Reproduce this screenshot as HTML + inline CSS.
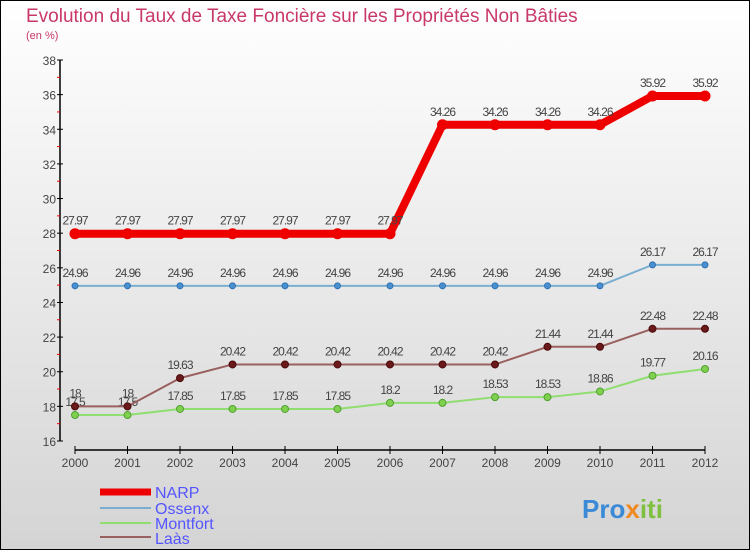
<!DOCTYPE html>
<html><head><meta charset="utf-8"><style>
body{margin:0}
#c{width:750px;height:550px;position:relative;overflow:hidden}
text{font-family:"Liberation Sans",sans-serif}
</style></head><body>
<div id="c">
<svg id="s" width="750" height="550" xmlns="http://www.w3.org/2000/svg">
<defs><linearGradient id="bg" x1="0" y1="0" x2="0" y2="1"><stop offset="0" stop-color="#ffffff"/><stop offset="1" stop-color="#d4d4d4"/></linearGradient></defs>
<rect x="0.5" y="0.5" width="749" height="549" fill="url(#bg)" stroke="#000"/>
<text x="26" y="22" font-size="19" fill="#c8386a">Evolution du Taux de Taxe Foncière sur les Propriétés Non Bâties</text>
<text x="26" y="39" font-size="11" fill="#c8386a">(en %)</text>
<g id="axes"></g><g id="series"></g>
<g>
<line x1="100" y1="492" x2="151" y2="492" stroke="#ee0000" stroke-width="7"/>
<text x="155" y="498" font-size="16" fill="#5555ff">NARP</text>
<line x1="100" y1="508" x2="151" y2="508" stroke="#7aaed0" stroke-width="2"/>
<text x="155" y="514" font-size="16" fill="#5555ff">Ossenx</text>
<line x1="100" y1="523" x2="151" y2="523" stroke="#90dd70" stroke-width="2"/>
<text x="155" y="529" font-size="16" fill="#5555ff">Montfort</text>
<line x1="100" y1="537" x2="151" y2="537" stroke="#9a6060" stroke-width="2"/>
<text x="155" y="544" font-size="16" fill="#5555ff">Laàs</text>
</g>
<text x="582" y="518" font-size="26" font-weight="bold" fill="#3a8ad8">Pro<tspan fill="#f08a20">x</tspan><tspan fill="#80c040">iti</tspan></text>
</svg></div>
<script>
const years=[2000,2001,2002,2003,2004,2005,2006,2007,2008,2009,2010,2011,2012];
const narp=[27.97,27.97,27.97,27.97,27.97,27.97,27.97,34.26,34.26,34.26,34.26,35.92,35.92];
const ossenx=[24.96,24.96,24.96,24.96,24.96,24.96,24.96,24.96,24.96,24.96,24.96,26.17,26.17];
const montfort=[17.5,17.5,17.85,17.85,17.85,17.85,18.2,18.2,18.53,18.53,18.86,19.77,20.16];
const laas=[18,18,19.63,20.42,20.42,20.42,20.42,20.42,20.42,21.44,21.44,22.48,22.48];
const yTicks=[16,18,20,22,24,26,28,30,32,34,36,38];
const NS="http://www.w3.org/2000/svg";
const xs=i=>75+i*52.5, ys=v=>441-(v-16)*(381/22);
function mk(t,a,p){const e=document.createElementNS(NS,t);for(const k in a)e.setAttribute(k,a[k]);p.appendChild(e);return e;}
const ax=document.getElementById('axes'), sg=document.getElementById('series');
let yl=mk('line',{x1:60,y1:60,x2:60,y2:441,stroke:'#000','stroke-width':1.5},ax);


let xl=mk('line',{x1:75,y1:450,x2:705,y2:450,stroke:'#000','stroke-width':1.5},ax);


yTicks.forEach(v=>{const y=ys(v);
 mk('line',{x1:57,y1:y,x2:63,y2:y,stroke:'#000'},ax);
 mk('line',{x1:57,y1:ys(v+1),x2:60,y2:ys(v+1),stroke:'#f00'},ax).style.display=v<38?'':'none';
 const t=mk('text',{x:56,y:y+5,'font-size':12,fill:'#444','text-anchor':'end'},ax);t.textContent=v;
 
 });
years.forEach((yr,i)=>{const x=xs(i);
 mk('line',{x1:x,y1:446,x2:x,y2:454,stroke:'#000'},ax);
 const t=mk('text',{x:x,y:467,'font-size':12,fill:'#444','text-anchor':'middle'},ax);t.textContent=yr;
 
 });
function series(d,name,col,w,dot,dotStroke,r){
 const g=mk('g',{},sg);
 
 
 mk('polyline',{points:d.map((v,i)=>xs(i)+','+ys(v)).join(' '),fill:'none',stroke:col,'stroke-width':w,'stroke-linejoin':'round'},g);
 d.forEach((v,i)=>{const c=mk('circle',{cx:xs(i),cy:ys(v),r:r,fill:dot,stroke:dotStroke},g);
  
  
  const t=mk('text',{x:xs(i),y:ys(v)-9,'font-size':12,fill:'#444','text-anchor':'middle','letter-spacing':'-1'},g);t.textContent=v;});
}
series(montfort,'montfort','#90dd70',2,'#80d050','#50a030',3.5);
series(laas,'laas','#9a6060',2,'#6a1a1a','#4a0a0a',3.5);
series(ossenx,'ossenx','#7aaed0',2,'#4a90d0','#3070b0',3);
series(narp,'narp','#ee0000',8,'#ee0000','#ee0000',5);
</script>
</body></html>
